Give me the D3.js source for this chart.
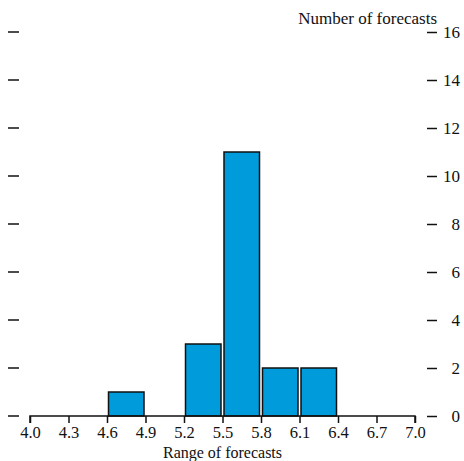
<!DOCTYPE html>
<html><head><meta charset="utf-8">
<script src="https://cdn.jsdelivr.net/npm/d3@7"></script>
<style>body{margin:0;background:#fff}svg{display:block}text{font-family:"Liberation Serif","DejaVu Serif",serif;fill:#111}</style>
</head><body>
<svg id="c" width="464" height="461"></svg>
<script>
const binStarts = [4.6, 5.2, 5.5, 5.8, 6.1];
const binEnds   = [4.9, 5.5, 5.8, 6.1, 6.4];
const counts    = [1, 3, 11, 2, 2];
const xTicks = [4.0, 4.3, 4.6, 4.9, 5.2, 5.5, 5.8, 6.1, 6.4, 6.7, 7.0];
const yTicks = [0, 2, 4, 6, 8, 10, 12, 14, 16];
const xTitle = "Range of forecasts";
const yTitle = "Number of forecasts";

const svg = d3.select("#c");
const x = d3.scaleLinear().domain([4.0, 7.0]).range([30, 415]);
const y = d3.scaleLinear().domain([0, 16]).range([416, 32]);
const FONT = '"Liberation Serif","DejaVu Serif",serif';

// bars
svg.append("g").selectAll("rect").data(counts).join("rect")
  .attr("x", (d,i) => x(binStarts[i]) + 1.5)
  .attr("width", (d,i) => x(binEnds[i]) - x(binStarts[i]) - 3)
  .attr("y", d => y(d))
  .attr("height", d => y(0) - y(d))
  .attr("fill", "#009bdb")
  .attr("stroke", "#111")
  .attr("stroke-width", 1.5);

// x axis
const xa = svg.append("g").attr("transform", `translate(0,${y(0)})`)
  .call(d3.axisBottom(x).tickValues(xTicks).tickFormat(d3.format(".1f")).tickSize(7).tickPadding(3));
xa.select(".domain").attr("stroke", "#111").attr("stroke-width", 1.5).attr("d", `M${x(4.0)},7V0H${x(7.0)}V7`);
xa.selectAll(".tick line").attr("stroke", "#111").attr("stroke-width", 1.5);
xa.selectAll(".tick text").attr("font-size", 16.5).attr("font-family", FONT).attr("fill", "#111");

// left dashes
svg.append("g").selectAll("line").data(yTicks).join("line")
  .attr("x1", 8).attr("x2", 19)
  .attr("y1", d => y(d)).attr("y2", d => y(d))
  .attr("stroke", "#111").attr("stroke-width", 1.5);

// right axis
const ya = svg.append("g").attr("transform", "translate(427,0)")
  .call(d3.axisRight(y).tickValues(yTicks).tickSize(10).tickPadding(0).tickFormat(d => d));
ya.select(".domain").remove();
ya.selectAll(".tick line").attr("stroke", "#111").attr("stroke-width", 1.5);
ya.selectAll(".tick text").attr("font-size", 17).attr("text-anchor", "end").attr("x", 33)
  .attr("font-family", FONT).attr("fill", "#111");

svg.append("text").attr("x", 437).attr("y", 24).attr("text-anchor", "end").attr("font-size", 17).text(yTitle);
svg.append("text").attr("x", x(5.5)).attr("y", 458).attr("text-anchor", "middle").attr("font-size", 16).text(xTitle);
</script>
</body></html>
